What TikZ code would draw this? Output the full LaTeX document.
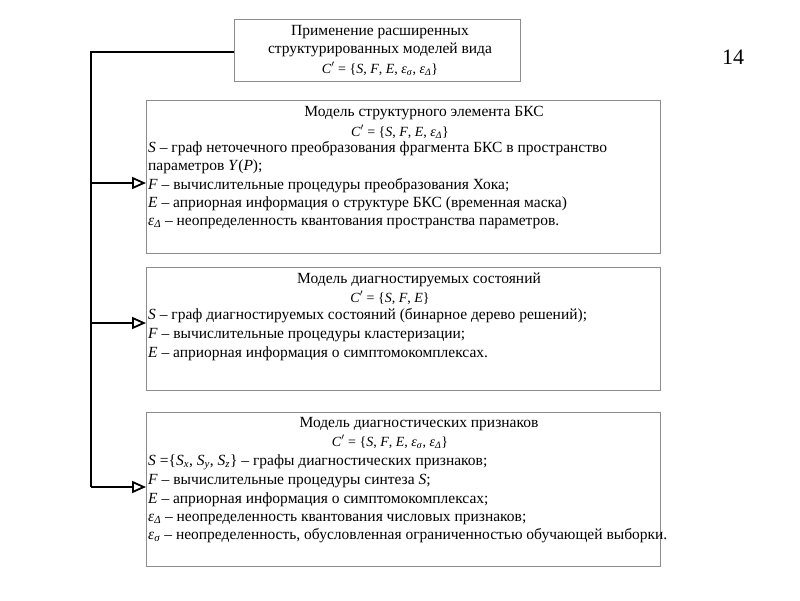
\documentclass[tikz,border=0pt]{standalone}
\usepackage{fontspec}
\setmainfont{Liberation Serif}
\usetikzlibrary{arrows.meta}
\newcommand{\eps}[1]{\textit{ε}\textsubscript{\textit{#1}}}
\begin{document}
\begin{tikzpicture}[x=1pt,y=-1pt,
  box/.style={draw=black!45, line width=1.2pt, inner sep=0pt, anchor=north west},
  txt/.style={font=\fontsize{15.5}{18}\selectfont, inner sep=0pt},
  ln/.style={txt, anchor=base west},
  ctr/.style={txt, anchor=base},
  frm/.style={font=\fontsize{14}{16}\selectfont, inner sep=0pt, anchor=base},
  conn/.style={line width=1.8pt, black},
  arr/.style={conn, -{Triangle[open, length=14pt, width=12pt, line width=1.8pt]}},
  num/.style={font=\fontsize{22}{24}\selectfont, inner sep=0pt}]
\useasboundingbox (0,0) rectangle (800,600);
% boxes
\node[box, minimum width=286pt, minimum height=62pt] (top) at (234,19) {};
\node[box, minimum width=514pt, minimum height=153pt] (b2) at (146,100) {};
\node[box, minimum width=514pt, minimum height=123pt] (b3) at (146,267) {};
\node[box, minimum width=514pt, minimum height=154pt] (b4) at (146,412) {};
% page number
\node[num] (pg) at (733,57) {14};
% top box text
\node[ctr] (t1) at (380,35) {Применение расширенных};
\node[ctr] (t2) at (380,53) {структурированных моделей вида};
\node[frm] (t3) at (380,73) {\textit{C}$'$ = \{\textit{S}, \textit{F}, \textit{E}, \eps{σ}, \eps{Δ}\}};
% box 2
\node[ctr] (b2t) at (424,116) {Модель структурного элемента БКС};
\node[frm] (b2f) at (400,136) {\textit{C}$'$ = \{\textit{S}, \textit{F}, \textit{E}, \eps{Δ}\}};
\node[ln] (b2l1) at (148,152) {\textit{S} – граф неточечного преобразования фрагмента БКС в пространство};
\node[ln] (b2l2) at (148,170) {параметров \textit{Y}(\textit{P});};
\node[ln] (b2l3) at (148,189) {\textit{F} – вычислительные процедуры преобразования Хока;};
\node[ln] (b2l4) at (148,207) {\textit{E} – априорная информация о структуре БКС (временная маска)};
\node[ln] (b2l5) at (148,225) {\eps{Δ} – неопределенность квантования пространства параметров.};
% box 3
\node[ctr] (b3t) at (419,283) {Модель диагностируемых состояний};
\node[frm] (b3f) at (390,302) {\textit{C}$'$ = \{\textit{S}, \textit{F}, \textit{E}\}};
\node[ln] (b3l1) at (148,319) {\textit{S} – граф диагностируемых состояний (бинарное дерево решений);};
\node[ln] (b3l2) at (148,338) {\textit{F} – вычислительные процедуры кластеризации;};
\node[ln] (b3l3) at (148,357) {\textit{E} – априорная информация о симптомокомплексах.};
% box 4
\node[ctr] (b4t) at (419,427) {Модель диагностических признаков};
\node[frm] (b4f) at (390,446) {\textit{C}$'$ = \{\textit{S}, \textit{F}, \textit{E}, \eps{σ}, \eps{Δ}\}};
\node[ln] (b4l1) at (148,465) {\textit{S} =\{\textit{S}\textsubscript{\textit{x}}, \textit{S}\textsubscript{\textit{y}}, \textit{S}\textsubscript{\textit{z}}\} – графы диагностических признаков;};
\node[ln] (b4l2) at (148,484) {\textit{F} – вычислительные процедуры синтеза \textit{S};};
\node[ln] (b4l3) at (148,503) {\textit{E} – априорная информация о симптомокомплексах;};
\node[ln] (b4l4) at (148,521) {\eps{Δ} – неопределенность квантования числовых признаков;};
\node[ln] (b4l5) at (148,539) {\eps{σ} – неопределенность, обусловленная ограниченностью обучающей выборки.};
% connectors
\coordinate (c0) at (91,52);
\coordinate (a2) at (146,183);
\coordinate (a3) at (146,323);
\coordinate (a4) at (146,487);
\draw[conn] (top.west |- c0) -- (c0) -- (c0 |- a4);
\draw[arr] (c0 |- a2) -- (a2);
\draw[arr] (c0 |- a3) -- (a3);
\draw[arr] (c0 |- a4) -- (a4);
\end{tikzpicture}
\end{document}
